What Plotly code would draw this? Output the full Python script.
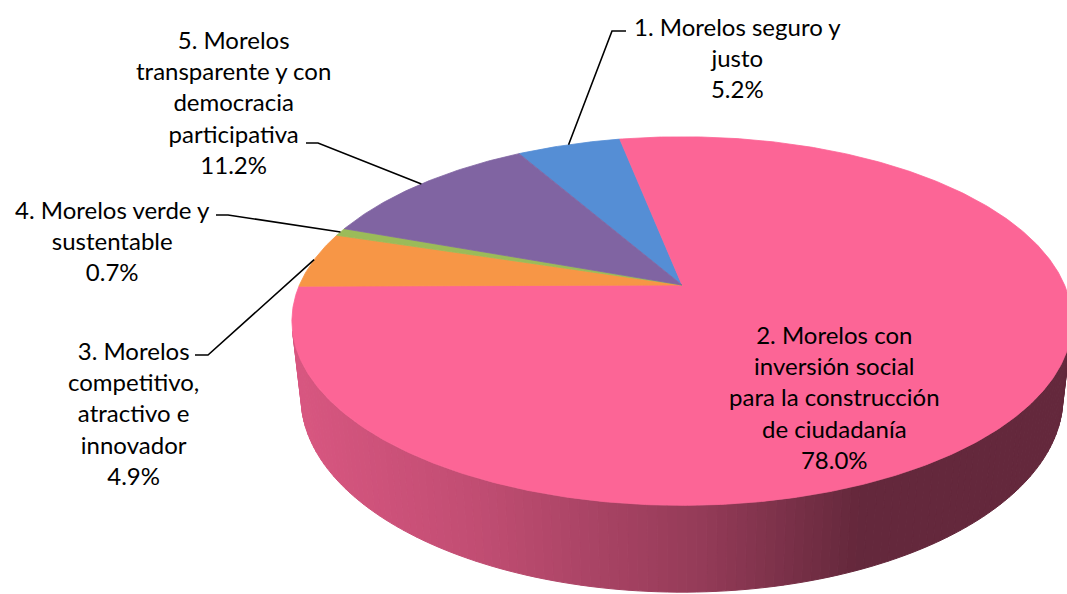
import numpy as np
import plotly.graph_objects as go

# ---------------- data ----------------
categories = [
    "1. Morelos seguro y justo",
    "2. Morelos con inversión social para la construcción de ciudadanía",
    "3. Morelos competitivo, atractivo e innovador",
    "4. Morelos verde y sustentable",
    "5. Morelos transparente y con democracia participativa",
]
values = [5.2, 78.0, 4.9, 0.7, 11.2]
label_lines = [
    ["1. Morelos seguro y", "justo"],
    ["2. Morelos con", "inversión social", "para la construcción", "de ciudadanía"],
    ["3. Morelos", "competitivo,", "atractivo e", "innovador"],
    ["4. Morelos verde y", "sustentable"],
    ["5. Morelos", "transparente y con", "democracia", "participativa"],
]

# ---------------- style / layout ----------------
colors = ["#558ED5", "#FC6596", "#F79646", "#9BBB59", "#8064A2"]
W, HGT = 1067, 594
CX, CY = 682.0, 285.0          # pie apex in pixels
FOC = 1733.0                   # projection scale
ELEV = np.radians(27.6)        # view elevation
DIST = 4.53                    # camera distance (radius units)
THICK = 0.227                  # pie thickness (radius units)
START = -29.9                  # first slice angle (deg, clockwise from back)
FONT = "Lato"
FSIZE = 24
LINE_H = 32.5

# label placement: (center x, first line center y), leader elbow & end
label_pos = [(737, 25), (834, 332), (133, 348), (112, 208), (233, 37)]
leader = [((612, 31), (626, 31)), None, ((208, 355), (195, 355)),
          ((228, 215), (216, 215)), ((318, 143), (306, 143))]

# side shading factor vs screen x
shade_x = [290, 470, 700, 860, 1080]
shade_f = [0.86, 0.77, 0.59, 0.40, 0.40]

se, ce = np.sin(ELEV), np.cos(ELEV)


def project(theta_deg, r=1.0, yv=0.0):
    t = np.radians(theta_deg)
    X = r * np.sin(t)
    Z = -r * np.cos(t)
    depth = DIST - yv * se - Z * ce
    sx = CX + FOC * X / depth
    sy = CY - FOC * (yv * ce - Z * se) / depth
    return sx, sy


def hex2rgb(h):
    h = h.lstrip("#")
    return tuple(int(h[i:i + 2], 16) for i in (0, 2, 4))


fig = go.Figure()

total = sum(values)
spans = []
a = START
for v in values:
    b = a + 360.0 * v / total
    spans.append((a, b))
    a = b

# visible side range (front-facing rim)
tv = np.degrees(np.arccos(-1.0 / (DIST * ce)))
vis_lo, vis_hi = tv, 360.0 - tv

# ---- side walls ----
for i, (a0, a1) in enumerate(spans):
    for off in (0.0, 360.0, -360.0):
        lo = max(a0 + off, vis_lo)
        hi = min(a1 + off, vis_hi)
        if hi <= lo:
            continue
        n = max(2, int((hi - lo) / 1.2))
        th = np.linspace(lo, hi, n + 1)
        base = np.array(hex2rgb(colors[i]), dtype=float)
        for k in range(n):
            t0, t1 = th[k], th[k + 1]
            x0, y0 = project(t0)
            x1, y1 = project(t1)
            x2, y2 = project(t1, yv=-THICK)
            x3, y3 = project(t0, yv=-THICK)
            mx = (x0 + x1) / 2
            f = np.interp(mx, shade_x, shade_f)
            c = base * f
            col = "rgb(%d,%d,%d)" % tuple(np.clip(c, 0, 255).astype(int))
            fig.add_trace(go.Scatter(
                x=[x0, x1, x2, x3, x0], y=[y0, y1, y2, y3, y0],
                mode="lines", fill="toself", fillcolor=col,
                line=dict(color=col, width=1), hoverinfo="skip",
                showlegend=False))

# ---- top faces ----
for i, (a0, a1) in enumerate(spans):
    th = np.linspace(a0, a1, max(3, int((a1 - a0) / 0.5)))
    xs, ys = project(th)
    xs = np.concatenate([[CX], xs, [CX]])
    ys = np.concatenate([[CY], ys, [CY]])
    fig.add_trace(go.Scatter(
        x=xs, y=ys, mode="lines", fill="toself", fillcolor=colors[i],
        line=dict(color=colors[i], width=0.8), hoverinfo="skip",
        name=categories[i], showlegend=False))

# ---- leader lines ----
for i, (a0, a1) in enumerate(spans):
    if leader[i] is None:
        continue
    sx, sy = project((a0 + a1) / 2)
    (ex, ey), (fx, fy) = leader[i]
    fig.add_trace(go.Scatter(
        x=[sx, ex, fx], y=[sy, ey, fy], mode="lines",
        line=dict(color="black", width=1.6), hoverinfo="skip",
        showlegend=False))

# ---- labels ----
for i, lines in enumerate(label_lines):
    txt = "<br>".join(lines + ["%.1f%%" % values[i]])
    nl = len(lines) + 1
    lx, ly = label_pos[i]
    fig.add_annotation(
        x=lx, y=ly + (nl - 1) * LINE_H / 2, xref="x", yref="y",
        text=txt, showarrow=False, xanchor="center", yanchor="middle",
        align="center", font=dict(family=FONT, size=FSIZE, color="black"))

fig.update_layout(
    width=W, height=HGT, margin=dict(l=0, r=0, t=0, b=0),
    paper_bgcolor="white", plot_bgcolor="white",
    xaxis=dict(range=[0, W], visible=False, fixedrange=True),
    yaxis=dict(range=[HGT, 0], visible=False, fixedrange=True),
    showlegend=False,
)

fig.write_html("out.html")
